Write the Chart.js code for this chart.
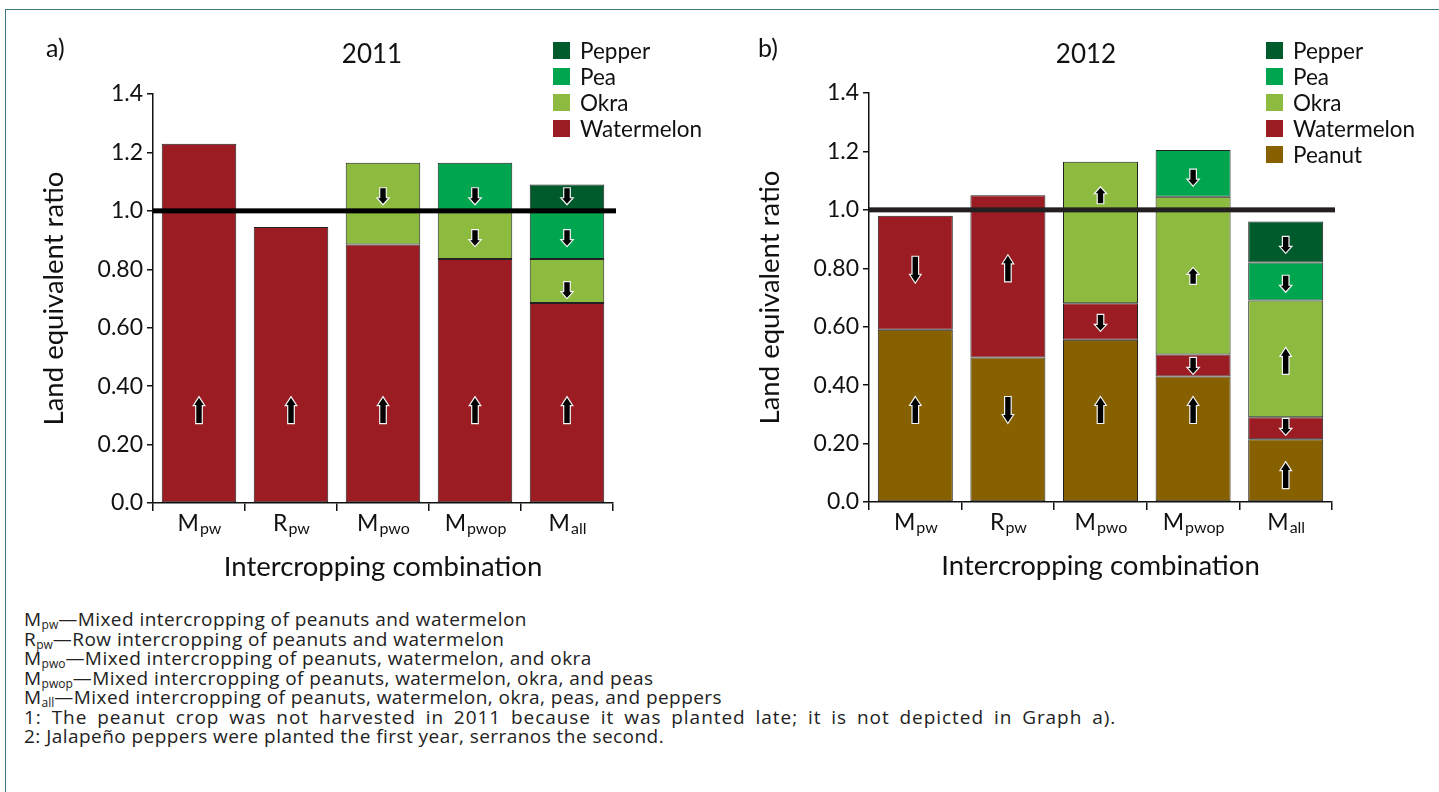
<!DOCTYPE html>
<html><head><meta charset="utf-8">
<script src="https://cdn.jsdelivr.net/npm/chart.js@4.4.0/dist/chart.umd.min.js"></script>
<style>
html,body{margin:0;padding:0;background:#fff;width:1439px;height:792px;overflow:hidden;font-family:Lato,sans-serif;color:#111;}
#frame{position:absolute;left:5px;top:9px;width:1440px;height:790px;border-top:1.5px solid #3a7880;border-left:1.5px solid #3a7880;}
canvas{position:absolute;}
#cA{left:0;top:0}
#cB{left:716px;top:-1px}
.panel{position:absolute;font-size:25px;line-height:25px;}
.yr{position:absolute;font-size:26px;line-height:26px;transform:translateX(-50%);}
.legend{position:absolute;font-size:22.5px;}
.legend div{height:26px;display:flex;align-items:center;white-space:nowrap;}
.legend span.sw{width:17px;height:17px;margin-right:10px;display:inline-block}
#notes{position:absolute;left:24px;top:610px;font-size:19px;line-height:19.5px;letter-spacing:0.45px;font-family:'Open Sans',sans-serif;color:#222;white-space:nowrap;}
#notes sub{font-size:12px;vertical-align:-3px;line-height:0;letter-spacing:0}
#notes .wide{letter-spacing:0.95px;word-spacing:4px}
</style></head>
<body>
<div id="frame"></div>
<canvas id="cA" width="720" height="600"></canvas>
<canvas id="cB" width="723" height="600"></canvas>
<div class="panel" style="left:46px;top:35px">a)</div>
<div class="panel" style="left:758px;top:35px">b)</div>
<div class="yr" style="left:372px;top:40px">2011</div>
<div class="yr" style="left:1086px;top:40px">2012</div>
<div class="legend" id="legA" style="left:553px;top:37px"></div>
<div class="legend" id="legB" style="left:1266px;top:37px"></div>
<div id="notes">
M<sub>pw</sub>—Mixed intercropping of peanuts and watermelon<br>
R<sub>pw</sub>—Row intercropping of peanuts and watermelon<br>
M<sub>pwo</sub>—Mixed intercropping of peanuts, watermelon, and okra<br>
M<sub>pwop</sub>—Mixed intercropping of peanuts, watermelon, okra, and peas<br>
M<sub>all</sub>—Mixed intercropping of peanuts, watermelon, okra, peas, and peppers<br>
<span class="wide">1: The peanut crop was not harvested in 2011 because it was planted late; it is not depicted in Graph a).</span><br>
2: Jalapeño peppers were planted the first year, serranos the second.
</div>
<script>
// ---- data ----
const catBase = ['M','R','M','M','M'];
const catSub = ['pw','pw','pwo','pwop','all'];
const categories = catBase.map((b,i)=>b+catSub[i]);
const yTickLabels = ['0.0','0.20','0.40','0.60','0.80','1.0','1.2','1.4'];
const xTitle = 'Intercropping combination';
const yTitle = 'Land equivalent ratio';
const refValue = 1.0;

// 2011 (no peanut harvest)
const watermelon2011 = [1.23, 0.945, 0.885, 0.835, 0.685];
const okra2011       = [null, null, 0.28, 0.165, 0.15];
const pea2011        = [null, null, null, 0.165, 0.165];
const pepper2011     = [null, null, null, null, 0.09];

// 2012
const peanut2012     = [0.59, 0.495, 0.555, 0.43, 0.215];
const watermelon2012 = [0.39, 0.555, 0.125, 0.075, 0.075];
const okra2012       = [null, null, 0.485, 0.54, 0.40];
const pea2012        = [null, null, null, 0.16, 0.13];
const pepper2012     = [null, null, null, null, 0.14];

// arrows: [category index, value, direction, size]
const arrows2011 = [
  [0,0.318,'up','L'],[1,0.318,'up','L'],[2,0.318,'up','L'],[3,0.318,'up','L'],[4,0.318,'up','L'],
  [2,1.05,'down','S'],[3,1.05,'down','S'],[3,0.907,'down','S'],
  [4,1.05,'down','S'],[4,0.907,'down','S'],[4,0.729,'down','S']
];
const arrows2012 = [
  [0,0.315,'up','L'],[0,0.795,'down','L'],
  [1,0.315,'down','L'],[1,0.80,'up','L'],
  [2,0.315,'up','L'],[2,0.613,'down','S'],[2,1.05,'up','S'],
  [3,0.315,'up','L'],[3,0.466,'down','S'],[3,0.774,'up','S'],[3,1.11,'down','S'],
  [4,0.092,'up','L'],[4,0.257,'down','S'],[4,0.483,'up','L'],[4,0.747,'down','S'],[4,0.88,'down','S']
];

const COLORS = {Peanut:'#876100', Watermelon:'#9B1C23', Okra:'#8DBB40', Pea:'#00A64F', Pepper:'#005B2C'};

// ---- helpers ----
const ds = (label, data) => ({label, data, backgroundColor: COLORS[label], borderColor:'#222',
  borderWidth:1, borderSkipped:false, barPercentage:0.81, categoryPercentage:1});

function drawArrow(ctx, x, y, dir, size){
  const L = size==='L'?27:17, hw = size==='L'?5.8:6.2, sw = 3.3, hh = size==='L'?9:7;
  const s = dir==='up'?1:-1;
  const tip = y - s*L/2, base = y + s*L/2, neck = tip + s*hh;
  ctx.beginPath();
  ctx.moveTo(x, tip);
  ctx.lineTo(x+hw, neck); ctx.lineTo(x+sw, neck); ctx.lineTo(x+sw, base);
  ctx.lineTo(x-sw, base); ctx.lineTo(x-sw, neck); ctx.lineTo(x-hw, neck);
  ctx.closePath();
  ctx.fillStyle='#000'; ctx.fill();
  ctx.strokeStyle='#f4f4f4'; ctx.lineWidth=1.2; ctx.stroke();
}

const overlay = {
  id:'overlay',
  afterDatasetsDraw(chart, args, opts){
    const {ctx, chartArea:a, scales:{x, y}} = chart;
    ctx.save();
    opts.arrows.forEach(([i,v,d,s]) => drawArrow(ctx, x.getPixelForValue(i), y.getPixelForValue(v), d, s));
    const yp = y.getPixelForValue(opts.refValue);
    ctx.fillStyle = opts.refColor;
    ctx.fillRect(a.left, yp-2.5, a.right-a.left+3, 5);
    ctx.restore();
  },
  afterDraw(chart){
    const {ctx, scales:{x}} = chart;
    ctx.save();
    ctx.fillStyle='#111'; ctx.textBaseline='alphabetic';
    categories.forEach((c,i)=>{
      ctx.font = '23px Lato'; const wb = ctx.measureText(catBase[i]).width;
      ctx.font = '16px Lato'; const ws = ctx.measureText(catSub[i]).width;
      const x0 = x.getPixelForValue(i) - (wb+ws)/2;
      ctx.font = '23px Lato'; ctx.fillText(catBase[i], x0, 531);
      ctx.font = '16px Lato'; ctx.fillText(catSub[i], x0+wb+1, 534);
    });
    ctx.restore();
  }
};

function makeChart(id, datasets, arrows, refColor){
  return new Chart(document.getElementById(id), {
    type:'bar',
    data:{labels:categories, datasets},
    plugins:[overlay],
    options:{
      responsive:false, animation:false, devicePixelRatio:1,
      layout:{padding:{left:38,right:107,top:94,bottom:16}},
      plugins:{legend:{display:false}, tooltip:{enabled:false}, overlay:{arrows, refValue, refColor}},
      scales:{
        x:{stacked:true,
           grid:{offset:true,drawOnChartArea:false,drawTicks:true,tickLength:8,color:'#111',lineWidth:1.5},
           border:{color:'#111',width:1.5},
           ticks:{callback:()=>''},
           title:{display:true,text:xTitle,font:{family:'Lato',size:27.5},color:'#111',padding:0},
           afterFit:s=>{s.height=81;}},
        y:{stacked:true,min:0,max:1.4,
           ticks:{stepSize:0.2,callback:(v)=>yTickLabels[Math.round(v/0.2)],font:{family:'Lato',size:23},color:'#111',padding:4},
           grid:{drawOnChartArea:false,tickLength:6,color:'#111',lineWidth:1.5},
           border:{color:'#111',width:1.5},
           title:{display:true,text:yTitle,font:{family:'Lato',size:27.5},color:'#111',padding:0},
           afterFit:s=>{s.width=115;}}
      }
    }
  });
}

const dsA = [ds('Watermelon',watermelon2011), ds('Okra',okra2011), ds('Pea',pea2011), ds('Pepper',pepper2011)];
const dsB = [ds('Peanut',peanut2012), ds('Watermelon',watermelon2012), ds('Okra',okra2012), ds('Pea',pea2012), ds('Pepper',pepper2012)];

makeChart('cA', dsA, arrows2011, '#000');
makeChart('cB', dsB, arrows2012, '#231f20');

function legend(el, sets){
  document.getElementById(el).innerHTML = sets.slice().reverse().map(d =>
    `<div><span class="sw" style="background:${d.backgroundColor}"></span>${d.label}</div>`).join('');
}
legend('legA', dsA); legend('legB', dsB);
</script>
</body></html>
